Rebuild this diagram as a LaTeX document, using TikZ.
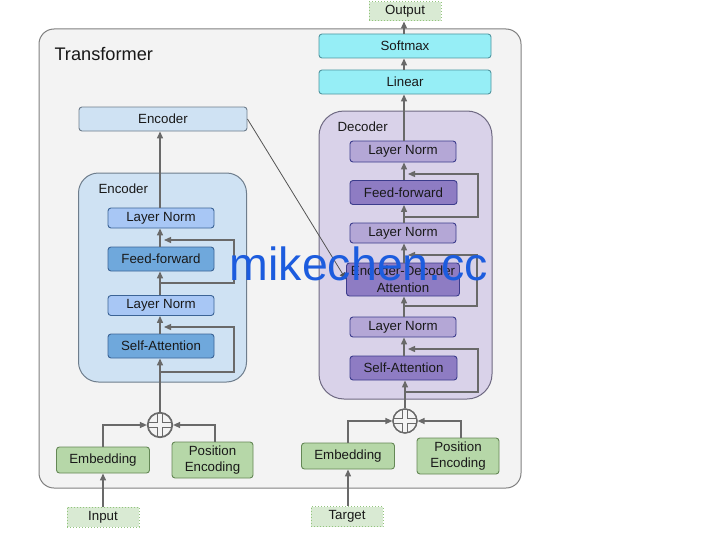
\documentclass[tikz,border=0pt]{standalone}
\usepackage{fontspec}
\setmainfont{Liberation Sans}
\usetikzlibrary{arrows.meta}
\definecolor{outerfill}{RGB}{243,243,243}
\definecolor{outerdraw}{RGB}{128,128,128}
\definecolor{encfill}{RGB}{207,226,243}
\definecolor{encdraw}{RGB}{110,125,140}
\definecolor{elnfill}{RGB}{168,199,245}
\definecolor{eblkfill}{RGB}{111,168,220}
\definecolor{eblkdraw}{RGB}{60,100,150}
\definecolor{decfill}{RGB}{217,210,233}
\definecolor{decdraw}{RGB}{110,105,130}
\definecolor{dlnfill}{RGB}{180,167,214}
\definecolor{dblkfill}{RGB}{142,124,195}
\definecolor{dblkdraw}{RGB}{60,60,140}
\definecolor{cyanfill}{RGB}{150,238,246}
\definecolor{cyandraw}{RGB}{80,150,160}
\definecolor{greenfill}{RGB}{182,215,168}
\definecolor{greendraw}{RGB}{100,135,85}
\definecolor{iofill}{RGB}{217,234,211}
\definecolor{iodraw}{RGB}{147,196,125}
\definecolor{arrgray}{RGB}{105,105,105}
\definecolor{txt}{RGB}{25,25,25}
\definecolor{wmblue}{RGB}{28,92,222}
\begin{document}
\begin{tikzpicture}[x=1pt,y=-1pt,
  every node/.style={text=txt},
  lbl/.style={font=\fontsize{13.3}{15}\selectfont},
  box/.style={draw, rounded corners=3pt, line width=0.9pt, inner sep=0pt, align=center, font=\fontsize{13.3}{15}\selectfont},
  group/.style={draw, line width=1pt, inner sep=0pt},
  iobox/.style={draw=iodraw, fill=iofill, dotted, line width=1pt, inner sep=0pt, font=\fontsize{13.3}{15}\selectfont},
  arr/.style={draw=arrgray, line width=1.3pt, -{Triangle[length=7pt,width=6pt]}},
  thinarr/.style={draw=arrgray!80!black, line width=0.8pt, -{Triangle[length=7pt,width=6pt]}},
]
\useasboundingbox (0,0) rectangle (720,535);
% outer
\node[group, draw=outerdraw, fill=outerfill, rounded corners=15pt, minimum width=482pt, minimum height=459pt] (outer) at (280,258.5) {};
\node[anchor=west, font=\fontsize{18.2}{20}\selectfont] (title) at (51,54) {Transformer};

% top
\node[iobox, minimum width=72pt, minimum height=19pt] (out) at (405,11.5) {Output};
\node[box, draw=cyandraw, fill=cyanfill, minimum width=172pt, minimum height=24pt] (soft) at (405,46) {Softmax};
\node[box, draw=cyandraw, fill=cyanfill, minimum width=172pt, minimum height=24pt] (lin) at (405,82) {Linear};

% encoder
\node[box, draw=encdraw, fill=encfill, minimum width=168pt, minimum height=24pt] (enc) at (163,119) {Encoder};
\node[group, draw=encdraw, fill=encfill, rounded corners=20pt, minimum width=168pt, minimum height=209pt] (egrp) at (162.5,277.5) {};
\node[anchor=west, lbl] (egl) at (95,189) {Encoder};
\node[box, draw=eblkdraw, fill=elnfill, minimum width=106pt, minimum height=20pt] (eln2) at (161,218) {Layer Norm};
\node[box, draw=eblkdraw, fill=eblkfill, minimum width=106pt, minimum height=24pt] (eff) at (161,259) {Feed-forward};
\node[box, draw=eblkdraw, fill=elnfill, minimum width=106pt, minimum height=20pt] (eln1) at (161,305.5) {Layer Norm};
\node[box, draw=eblkdraw, fill=eblkfill, minimum width=106pt, minimum height=24pt] (esa) at (161,346) {Self-Attention};

% decoder
\node[group, draw=decdraw, fill=decfill, rounded corners=25pt, minimum width=173pt, minimum height=288pt] (dgrp) at (405.5,255) {};
\node[anchor=west, lbl] (dgl) at (334,127) {Decoder};
\node[box, draw=dblkdraw, fill=dlnfill, minimum width=106pt, minimum height=21pt] (dln3) at (403,151.5) {Layer Norm};
\node[box, draw=dblkdraw, fill=dblkfill, minimum width=107pt, minimum height=24pt] (dff) at (403.5,192.5) {Feed-forward};
\node[box, draw=dblkdraw, fill=dlnfill, minimum width=106pt, minimum height=20pt] (dln2) at (403,233) {Layer Norm};
\node[box, draw=dblkdraw, fill=dblkfill, minimum width=113pt, minimum height=33pt, font=\fontsize{13.3}{17}\selectfont] (deda) at (403,279.5) {Encoder-Decoder\\Attention};
\node[box, draw=dblkdraw, fill=dlnfill, minimum width=106pt, minimum height=20pt] (dln1) at (403,327) {Layer Norm};
\node[box, draw=dblkdraw, fill=dblkfill, minimum width=107pt, minimum height=24pt] (dsa) at (403.5,368) {Self-Attention};

% bottom encoder side
\node[box, draw=greendraw, fill=greenfill, minimum width=93pt, minimum height=26pt] (eemb) at (103,460) {Embedding};
\node[box, draw=greendraw, fill=greenfill, minimum width=81pt, minimum height=36pt, font=\fontsize{13.3}{16}\selectfont] (epe) at (212.5,460) {Position\\Encoding};
\node[iobox, minimum width=72pt, minimum height=20pt] (inp) at (103,517) {Input};
\node[circle, draw=arrgray, fill=outerfill, line width=1.2pt, minimum size=25pt, inner sep=0pt] (eplus) at (160,425) {};

% bottom decoder side
\node[box, draw=greendraw, fill=greenfill, minimum width=93pt, minimum height=26pt] (demb) at (348,456) {Embedding};
\node[box, draw=greendraw, fill=greenfill, minimum width=82pt, minimum height=36pt, font=\fontsize{13.3}{16}\selectfont] (dpe) at (458,456) {Position\\Encoding};
\node[iobox, minimum width=72pt, minimum height=20pt] (tgt) at (347,516.5) {Target};
\node[circle, draw=arrgray, fill=outerfill, line width=1.2pt, minimum size=24pt, inner sep=0pt] (dplus) at (405,421) {};

% hollow crosses in plus circles
\foreach \p in {eplus,dplus}{
  \draw[arrgray, line width=5.5pt] ([yshift=-11pt]\p.center) -- ([yshift=11pt]\p.center);
  \draw[arrgray, line width=5.5pt] ([xshift=-11pt]\p.center) -- ([xshift=11pt]\p.center);
  \draw[outerfill, line width=3.2pt] ([yshift=-11pt]\p.center) -- ([yshift=11pt]\p.center);
  \draw[outerfill, line width=3.2pt] ([xshift=-11pt]\p.center) -- ([xshift=11pt]\p.center);
  \draw[arrgray, line width=1.2pt] (\p) circle (12pt);
}

% encoder connectors
\draw[arr] (inp.north) -- (eemb.south);
\draw[arr] (eemb.north) |- (eplus.west);
\draw[arr] (epe.north -| 215,0) |- (eplus.east);
\draw[arr] (eplus.north) -- (eplus.north |- esa.south);
\draw[arr] (esa.north -| eplus.north) -- (eplus.north |- eln1.south);
\draw[arr] (eln1.north -| eplus.north) -- (eplus.north |- eff.south);
\draw[arr] (eff.north -| eplus.north) -- (eplus.north |- eln2.south);
\draw[arr] (eln2.north -| eplus.north) -- (eplus.north |- enc.south);
\coordinate (esaB) at (160,372);
\coordinate (esaT) at (164,327);
\draw[arr] (esaB) -- (234,372) -- (234,327) -- (esaT);
\coordinate (effB) at (160,283);
\coordinate (effT) at (164,240);
\draw[arr] (effB) -- (234,283) -- (234,240) -- (effT);

% decoder connectors
\draw[arr] (tgt.north -| 348,0) -- (demb.south);
\draw[arr] (demb.north) |- (dplus.west);
\draw[arr] (dpe.north -| 461,0) |- (dplus.east);
\draw[arr] (dplus.north) -- (dplus.north |- dsa.south);
\draw[arr] (dsa.north -| 404,0) -- (404,0 |- dln1.south);
\draw[arr] (dln1.north -| 404,0) -- (404,0 |- deda.south);
\draw[arr] (deda.north -| 404,0) -- (404,0 |- dln2.south);
\draw[arr] (dln2.north -| 404,0) -- (404,0 |- dff.south);
\draw[arr] (dff.north -| 404,0) -- (404,0 |- dln3.south);
\draw[arr] (dln3.north -| 404,0) -- (404,0 |- lin.south);
\draw[arr] (lin.north -| 404,0) -- (404,0 |- soft.south);
\draw[arr] (soft.north -| 404,0) -- (404,0 |- out.south);
\coordinate (dsaB) at (404,392);
\coordinate (dsaT) at (408,349);
\draw[arr] (dsaB) -- (478,392) -- (478,349) -- (dsaT);
\coordinate (dedaB) at (404,306);
\coordinate (dedaT) at (408,255);
\draw[arr] (dedaB) -- (477,306) -- (477,255) -- (dedaT);
\coordinate (dffB) at (404,217);
\coordinate (dffT) at (408,174);
\draw[arr] (dffB) -- (478,217) -- (478,174) -- (dffT);

% encoder to decoder
\draw[thinarr] (enc.east) -- (deda.west);

% watermark
\node[anchor=base, text=wmblue, font=\fontsize{46.5}{46}\selectfont] (wm) at (359,280) {mikechen.cc};
\end{tikzpicture}
\end{document}
